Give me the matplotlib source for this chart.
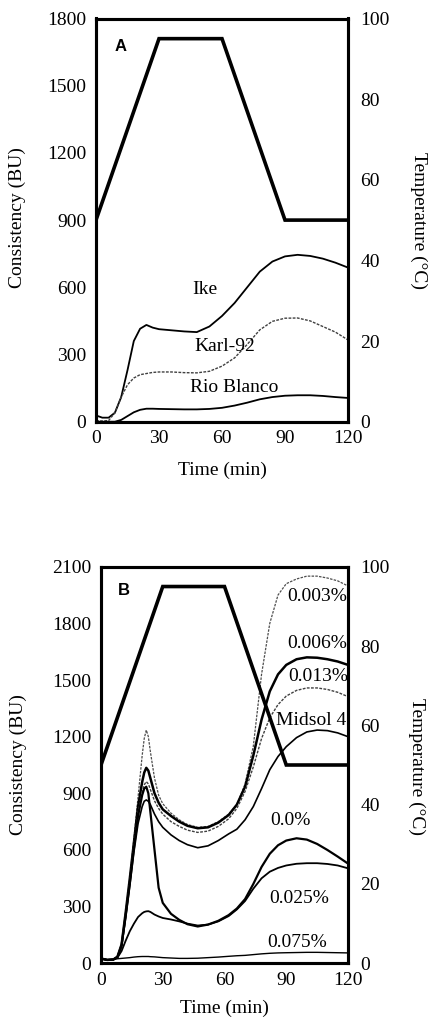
"""
Consistency (BU) and temperature program vs. time, two stacked panels.
A: three flours; B: additive levels.
"""
import matplotlib
matplotlib.use("Agg")
import matplotlib.pyplot as plt

SERIF = ["Liberation Serif", "DejaVu Serif"]
plt.rcParams["font.family"] = SERIF

# ---- temperature program (same in both panels) ----
temp_time = [0, 30, 60, 90, 120]
temp_c = [50, 95, 95, 50, 50]

# ---- panel A ----
time_a = [0, 3, 6, 9, 12, 15, 18, 21, 24, 27, 30, 36, 42, 48, 54, 60, 66, 72, 78, 84, 90, 96, 102, 108, 114, 120]
ike = [28, 18, 18, 40, 110, 230, 360, 415, 432, 420, 413, 408, 403, 400, 425, 472, 530, 600, 670, 715, 738, 745, 740, 728, 710, 688]
karl92 = [5, 3, 5, 40, 110, 165, 195, 210, 215, 220, 222, 222, 219, 218, 225, 248, 285, 345, 410, 448, 462, 463, 450, 425, 400, 365]
rio_blanco = [0, 0, 0, 0, 8, 25, 42, 53, 58, 58, 57, 56, 55, 55, 57, 62, 72, 85, 100, 110, 116, 118, 118, 115, 110, 106]

# ---- panel B ----
time_b = [0, 3, 6, 8, 10, 12, 14, 16, 18, 20, 21, 22, 23, 24, 26, 28, 30, 34, 38, 42, 47, 52, 57, 62, 66, 70, 74, 78, 82, 86, 90, 95, 100, 105, 110, 115, 120]
pct_0003 = [25, 18, 20, 35, 100, 265, 450, 660, 880, 1100, 1190, 1235, 1200, 1120, 980, 890, 845, 795, 760, 735, 720, 725, 750, 790, 840, 950, 1150, 1530, 1800, 1950, 2010, 2035, 2050, 2050, 2040, 2025, 1998]
pct_0006 = [25, 18, 20, 35, 100, 270, 450, 640, 830, 960, 1010, 1035, 1020, 980, 900, 850, 815, 780, 750, 728, 715, 720, 745, 785, 840, 935, 1100, 1290, 1440, 1530, 1580, 1610, 1620, 1618, 1610, 1598, 1580]
pct_0013 = [25, 18, 20, 35, 100, 265, 440, 630, 800, 905, 945, 962, 950, 920, 860, 820, 790, 750, 725, 705, 693, 700, 725, 765, 820, 910, 1040, 1190, 1300, 1370, 1415, 1445, 1458, 1458, 1450, 1435, 1412]
midsol4 = [25, 18, 20, 33, 90, 240, 410, 590, 740, 830, 858, 865, 858, 840, 790, 750, 720, 680, 650, 628, 612, 622, 650, 685, 710, 760, 830, 925, 1025, 1095, 1147, 1195, 1225, 1235, 1232, 1220, 1200]
pct_00 = [25, 18, 20, 33, 95, 255, 425, 610, 780, 890, 925, 935, 900, 800, 600, 400, 320, 262, 230, 207, 195, 205, 225, 255, 290, 340, 420, 510, 580, 625, 650, 662, 655, 632, 600, 565, 528]
pct_0025 = [25, 18, 20, 30, 65, 120, 170, 210, 245, 265, 272, 275, 276, 272, 258, 248, 240, 232, 222, 210, 200, 205, 222, 250, 285, 330, 395, 450, 485, 505, 518, 527, 530, 530, 526, 518, 503]
pct_0075 = [25, 18, 20, 24, 26, 28, 30, 33, 35, 36, 36, 36, 36, 35, 34, 32, 30, 28, 26, 26, 27, 30, 33, 37, 40, 42, 46, 50, 53, 55, 56, 57, 58, 58, 57, 56, 55]

DOTTED = (0, (2, 1))
FS = 14


def style_axes(ax, ymax, ystep):
    ax.set_xlim(0, 120)
    ax.set_ylim(0, ymax)
    ax.set_xticks(range(0, 121, 30))
    ax.set_yticks(range(0, ymax + 1, ystep))
    ax.tick_params(length=0, labelsize=FS)
    ax.tick_params(axis="x", pad=6)
    ax.tick_params(axis="y", pad=7)
    for sp in ax.spines.values():
        sp.set_linewidth(2.2)


def add_temperature(ax):
    tax = ax.twinx()
    tax.plot(temp_time, temp_c, color="black", lw=2.6, solid_joinstyle="miter")
    tax.set_ylim(0, 100)
    tax.set_yticks(range(0, 101, 20))
    tax.tick_params(length=0, labelsize=FS, pad=9)
    for sp in tax.spines.values():
        sp.set_linewidth(2.2)
    return tax


fig = plt.figure(figsize=(4.28, 10.23), dpi=100)

# panel A
ax_a = fig.add_axes([96 / 428, 1 - 421.7 / 1023, 252 / 428, 403.2 / 1023])
style_axes(ax_a, 1800, 300)
ax_a.plot(time_a, ike, color="black", lw=1.3)
ax_a.plot(time_a, karl92, color="0.25", lw=1.0, ls=DOTTED)
ax_a.plot(time_a, rio_blanco, color="black", lw=1.3)
ax_a.text(46, 588, "Ike", fontsize=FS, va="center")
ax_a.text(46.9, 335, "Karl-92", fontsize=FS, va="center")
ax_a.text(45, 154, "Rio Blanco", fontsize=FS, va="center")
ax_a.text(0.075, 0.93, "A", transform=ax_a.transAxes, fontsize=12,
          fontweight="bold", family="Liberation Sans", va="center")
add_temperature(ax_a)
ax_a.set_xlabel("Time (min)", fontsize=FS)
ax_a.xaxis.set_label_coords(0.5, -0.1)

# panel B
ax_b = fig.add_axes([101 / 428, 1 - 963.3 / 1023, 247 / 428, 396.6 / 1023])
style_axes(ax_b, 2100, 300)
ax_b.plot(time_b, pct_0003, color="0.3", lw=0.9, ls=DOTTED)
ax_b.plot(time_b, pct_0006, color="black", lw=1.8)
ax_b.plot(time_b, pct_0013, color="0.25", lw=1.0, ls=DOTTED)
ax_b.plot(time_b, midsol4, color="black", lw=1.2)
ax_b.plot(time_b, pct_00, color="black", lw=1.6)
ax_b.plot(time_b, pct_0025, color="black", lw=1.3)
ax_b.plot(time_b, pct_0075, color="black", lw=1.0)
labels_b = [
    (90.4, 1941, "0.003%"),
    (90.4, 1691, "0.006%"),
    (90.8, 1518, "0.013%"),
    (85.0, 1288, "Midsol 4"),
    (82.3, 755, "0.0%"),
    (81.7, 344, "0.025%"),
    (80.6, 109, "0.075%"),
]
for t, v, s in labels_b:
    ax_b.text(t, v, s, fontsize=FS, va="center", clip_on=True)
ax_b.text(0.07, 0.94, "B", transform=ax_b.transAxes, fontsize=12,
          fontweight="bold", family="Liberation Sans", va="center")
add_temperature(ax_b)
ax_b.set_xlabel("Time (min)", fontsize=FS)
ax_b.xaxis.set_label_coords(0.5, -0.0925)

# y-axis titles
fig.text(17 / 428, 1 - 218 / 1023, "Consistency (BU)", rotation=90,
         ha="center", va="center", fontsize=FS)
fig.text(419 / 428, 1 - 220 / 1023, "Temperature (°C)", rotation=270,
         ha="center", va="center", fontsize=FS)
fig.text(18 / 428, 1 - 765 / 1023, "Consistency (BU)", rotation=90,
         ha="center", va="center", fontsize=FS)
fig.text(417 / 428, 1 - 767 / 1023, "Temperature (°C)", rotation=270,
         ha="center", va="center", fontsize=FS)

fig.savefig("out.png", dpi=100)
